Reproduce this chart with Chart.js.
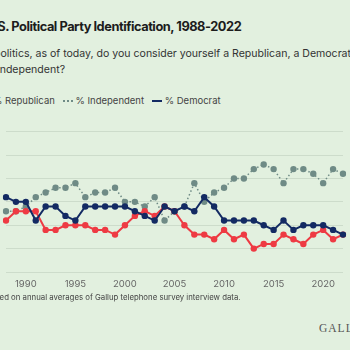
<!DOCTYPE html>
<html>
<head>
<meta charset="utf-8">
<script src="https://cdn.jsdelivr.net/npm/chart.js@4.4.1/dist/chart.umd.min.js"></script>
<style>
  html, body { margin: 0; padding: 0; }
  body {
    width: 350px; height: 350px; overflow: hidden; position: relative;
    background: #e2f0df; font-family: Inter, "Noto Sans", sans-serif;
  }
  .title { position: absolute; left: -15px; top: 19px; font-size: 12.8px; font-weight: 700; letter-spacing: -0.45px; color: #1c1c1c; white-space: nowrap; }
  .sub { position: absolute; left: -18px; top: 46px; font-size: 10.55px; line-height: 16px; color: #333; white-space: nowrap; }
  .legend { position: absolute; left: -25px; top: 95px; font-size: 9.5px; color: #444; white-space: nowrap; }
  .legend span.sw { display: inline-block; width: 10px; height: 0; vertical-align: middle; margin: 0 3px 0 5px; }
  .note { position: absolute; left: -14px; top: 292px; font-size: 7.8px; color: #444; white-space: nowrap; }
  .logo { position: absolute; left: 319px; top: 322px; font-family: "Liberation Serif", "DejaVu Serif", serif; font-size: 11.5px; letter-spacing: 1px; color: #555; }
  #wrap { position: absolute; left: -40px; top: 110px; width: 430px; height: 190px; }
</style>
</head>
<body>
<div class="title">U.S. Political Party Identification, 1988-2022</div>
<div class="sub">In politics, as of today, do you consider yourself a Republican, a Democrat, or<br>an independent?</div>
<div class="legend">
  <span class="sw" style="border-top:2px solid #ee3a43"></span>% Republican
  <span class="sw" style="border-top:2px dotted #6f8b86"></span>% Independent
  <span class="sw" style="border-top:2px solid #132a63"></span>% Democrat
</div>
<div id="wrap"><canvas id="myChart" width="430" height="190"></canvas></div>
<div class="note">Based on annual averages of Gallup telephone survey interview data.</div>
<div class="logo">GALLUP</div>

<script>
"use strict";

// Data
const years = ["1988", "1989", "1990", "1991", "1992", "1993", "1994", "1995", "1996", "1997",
  "1998", "1999", "2000", "2001", "2002", "2003", "2004", "2005", "2006", "2007", "2008",
  "2009", "2010", "2011", "2012", "2013", "2014", "2015", "2016", "2017", "2018", "2019",
  "2020", "2021", "2022"];
const republican = [31, 33, 33, 33, 29, 29, 30, 30, 30, 29, 29, 28, 30, 32, 33, 32, 34, 33,
  30, 28, 28, 27, 29, 27, 28, 25, 26, 26, 28, 27, 26, 28, 29, 27, 28];
const independent = [33, 33, 34, 36, 37, 38, 38, 39, 36, 37, 37, 38, 35, 35, 34, 36, 31, 33,
  34, 39, 35, 37, 38, 40, 40, 42, 43, 42, 39, 42, 42, 41, 39, 42, 41];
const democrat = [36, 35, 35, 31, 34, 34, 32, 31, 34, 34, 34, 34, 34, 33, 32, 31, 34, 33,
  34, 33, 36, 34, 31, 31, 31, 31, 30, 29, 31, 29, 30, 30, 30, 29, 28];
const xTickLabels = ["1990", "1995", "2000", "2005", "2010", "2015", "2020"];

const RED = "#ee3a43";
const GREY = "#6f8b86";
const NAVY = "#132a63";

Chart.defaults.font.family = "Inter, 'Noto Sans', sans-serif";
Chart.defaults.font.size = 9.5;

// Small value labels after the last point of each line
const endLabels = {
  id: "endLabels",
  afterDatasetsDraw(chart, args, opts) {
    const ctx = chart.ctx;
    ctx.save();
    ctx.font = "9.5px Inter, sans-serif";
    ctx.textBaseline = "middle";
    chart.data.datasets.forEach((ds, i) => {
      const pts = chart.getDatasetMeta(i).data;
      const last = pts[pts.length - 1];
      ctx.fillStyle = "#333";
      ctx.fillText(ds.data[ds.data.length - 1], last.x + 7, last.y + (opts.shift[i] || 0));
    });
    ctx.restore();
  },
};

const ctx = document.getElementById("myChart").getContext("2d");

const lineSet = (label, data, color, order) => ({
  label: label,
  data: data,
  borderColor: color,
  backgroundColor: color,
  pointBackgroundColor: color,
  pointBorderWidth: 0,
  pointRadius: 3.2,
  pointHoverRadius: 3.2,
  borderWidth: 2,
  tension: 0,
  order: order,
});

const indSet = lineSet("% Independent", independent, GREY, 2);
indSet.borderDash = [1.5, 2.5];
indSet.borderWidth = 1.5;

const myChart = new Chart(ctx, {
  type: "line",
  data: {
    labels: years,
    datasets: [
      lineSet("% Republican", republican, RED, 1),
      indSet,
      lineSet("% Democrat", democrat, NAVY, 0),
    ],
  },
  options: {
    responsive: false,
    animation: false,
    layout: { padding: { left: 6, right: 47, top: 18, bottom: 0 } },
    scales: {
      x: {
        grid: { display: false, drawTicks: false },
        border: { display: false },
        ticks: {
          color: "#666",
          autoSkip: false,
          maxRotation: 0,
          padding: 6,
          callback: function (value) {
            const lab = this.getLabelForValue(value);
            return xTickLabels.includes(lab) ? lab : "";
          },
        },
        afterFit: (scale) => { scale.height = 28; },
      },
      y: {
        min: 20,
        max: 50,
        ticks: { stepSize: 5, color: "#666", padding: 16 },
        grid: { color: "#cddccb", drawTicks: false, lineWidth: 1 },
        border: { display: false },
        afterFit: (scale) => { scale.width = 40; },
      },
    },
    plugins: {
      legend: { display: false },
      tooltip: { enabled: false },
      endLabels: { shift: [3, 0, -6] },
    },
  },
  plugins: [endLabels],
});
</script>
</body>
</html>
